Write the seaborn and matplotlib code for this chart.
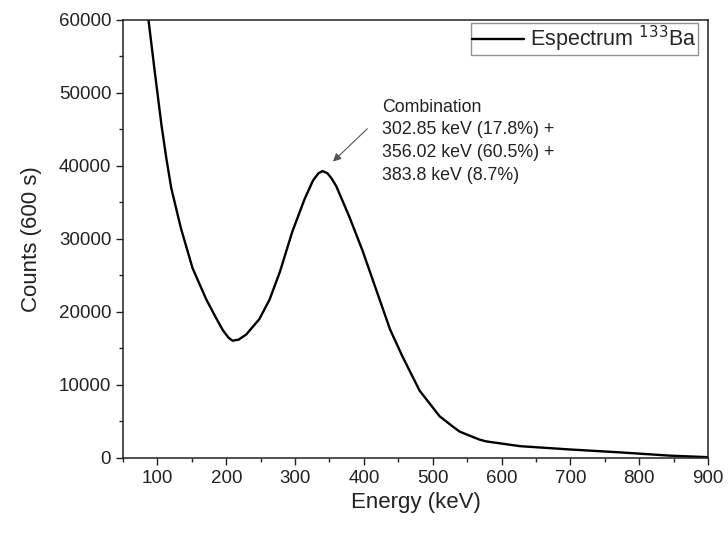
import numpy as np
import pandas as pd
import matplotlib
matplotlib.use("Agg")
import matplotlib.pyplot as plt
from matplotlib.ticker import MultipleLocator
import seaborn as sns

# values
energy = [87, 96, 106, 113, 120, 134, 151, 171, 185, 195, 203, 209, 218, 229,
          248, 263, 278, 296, 314, 326, 334, 340, 347, 353, 360, 379, 398, 418,
          438, 456, 481, 510, 529, 539, 568, 578, 627, 699, 772, 845, 898, 900]
counts = [60000, 53000, 45500, 41000, 37000, 31500, 26000, 21700, 19200, 17500,
          16500, 16050, 16200, 16900, 19000, 21700, 25500, 31000, 35500, 38000,
          39000, 39300, 39000, 38300, 37200, 33000, 28400, 23000, 17600, 13900,
          9200, 5700, 4300, 3600, 2500, 2250, 1600, 1150, 750, 300, 100, 80]
label = "Espectrum $^{133}$Ba"
note = "Combination\n302.85 keV (17.8%) +\n356.02 keV (60.5%) +\n383.8 keV (8.7%)"

df = pd.DataFrame({"Energy": energy, "Counts": counts})

sns.set_theme(style="ticks")
plt.rcParams['font.family'] = ['Liberation Sans', 'DejaVu Sans']

fig = plt.figure(figsize=(7.28, 5.33), dpi=100)
ax = fig.add_axes([0.169, 0.141, 0.8035, 0.8215])

sns.lineplot(data=df, x="Energy", y="Counts", ax=ax, color="black", lw=1.7, label=label)

ax.set_xlim(50, 900)
ax.set_ylim(0, 60000)
ax.xaxis.set_major_locator(MultipleLocator(100))
ax.xaxis.set_minor_locator(MultipleLocator(50))
ax.yaxis.set_major_locator(MultipleLocator(10000))
ax.yaxis.set_minor_locator(MultipleLocator(5000))
ax.tick_params(which="major", length=5, width=1, labelsize=13.5, colors="#222222")
ax.tick_params(which="minor", length=3, width=1)
for s in ax.spines.values():
    s.set_linewidth(1.1)
    s.set_color("#222222")

ax.set_xlabel("Energy (keV)", fontsize=16, color="#222222")
ax.set_ylabel("Counts (600 s)", fontsize=16, color="#222222", labelpad=12)

ax.text(426, 37500, note, fontsize=12.8, color="#222222", va="bottom",
        ha="left", linespacing=1.45)
ax.annotate("", xy=(355, 40600), xytext=(405, 45100),
            arrowprops=dict(arrowstyle="-|>", color="#555555", lw=0.8,
                            shrinkA=0, shrinkB=0, mutation_scale=12))

leg = ax.legend(loc="upper right", bbox_to_anchor=(0.983, 0.993), fontsize=15.5,
                frameon=True, fancybox=False, handlelength=2.4, borderpad=0.05,
                handletextpad=0.3, borderaxespad=0.0)
leg.get_frame().set_edgecolor("#777777")
leg.get_frame().set_linewidth(1.0)

fig.savefig("out.png", dpi=100)
